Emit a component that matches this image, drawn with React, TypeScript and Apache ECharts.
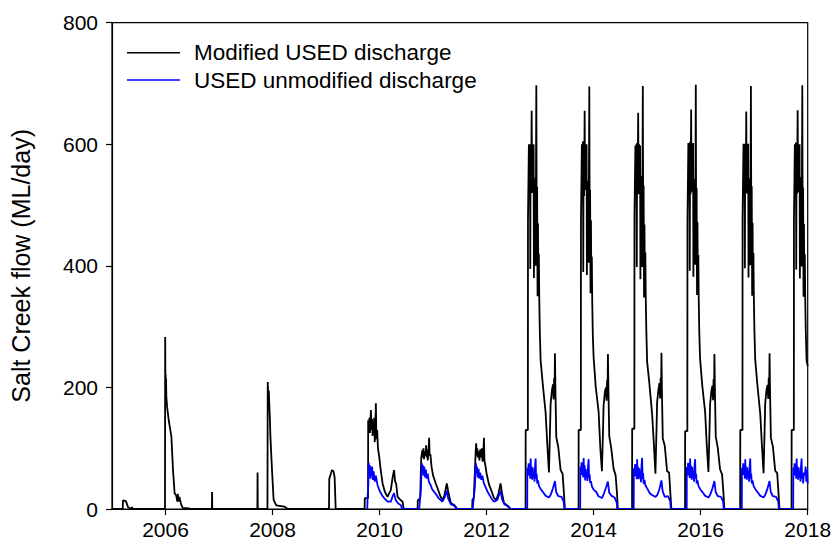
import React, { useEffect, useRef } from "react";
import * as echarts from "echarts";

type P = [number, number];

const seriesNames = ["Modified USED discharge", "USED unmodified discharge"];
const seriesColors = ["#000000", "#0000ff"];
const xTicks = [2006, 2008, 2010, 2012, 2014, 2016, 2018];
const yTicks = [0, 200, 400, 600, 800];

// ---- Modified USED discharge (black) events ----
const mod2005: P[] = [[2005.0, 0], [2005.2, 0], [2005.205, 14], [2005.26, 13], [2005.28, 8], [2005.3, 3], [2005.36, 0], [2005.375, 3], [2005.39, 0]];
const mod2006: P[] = [[2005.99, 0], [2005.994, 283], [2005.998, 200], [2006.002, 222], [2006.006, 188], [2006.01, 215], [2006.015, 185], [2006.03, 168], [2006.06, 146], [2006.08, 135], [2006.11, 119], [2006.14, 64], [2006.17, 26], [2006.2, 22], [2006.22, 12], [2006.23, 25], [2006.245, 12], [2006.26, 20], [2006.29, 8], [2006.32, 2], [2006.44, 1], [2006.46, 0]];
const modSpikes: P[] = [[2006.866, 0], [2006.87, 28], [2006.874, 0], [2007.716, 0], [2007.72, 60], [2007.724, 0]];
const mod2008: P[] = [[2007.905, 0], [2007.91, 209], [2007.92, 185], [2007.93, 195], [2007.94, 170], [2007.95, 150], [2007.96, 119], [2007.99, 64], [2008.02, 15], [2008.07, 6], [2008.22, 4], [2008.28, 0]];
const mod2009: P[] = [[2009.055, 0], [2009.06, 50], [2009.09, 58], [2009.11, 64], [2009.14, 62], [2009.16, 52], [2009.18, 0]];
const mod2010: P[] = [[2009.72, 0], [2009.724, 18], [2009.785, 18], [2009.787, 146], [2009.8, 130], [2009.81, 150], [2009.82, 125], [2009.838, 163], [2009.85, 130], [2009.86, 148], [2009.87, 120], [2009.88, 140], [2009.89, 128], [2009.9, 150], [2009.91, 110], [2009.92, 135], [2009.931, 174], [2009.94, 115], [2009.955, 130], [2009.97, 100], [2009.993, 86], [2010.02, 65], [2010.056, 42], [2010.1, 28], [2010.149, 20], [2010.18, 26], [2010.21, 31], [2010.24, 50], [2010.27, 64], [2010.29, 45], [2010.31, 42], [2010.336, 20], [2010.39, 15], [2010.43, 12], [2010.45, 0]];
const mod2011: P[] = [[2010.71, 0], [2010.714, 14], [2010.76, 18], [2010.77, 60], [2010.78, 85], [2010.8, 97], [2010.81, 85], [2010.82, 100], [2010.83, 82], [2010.845, 95], [2010.86, 88], [2010.87, 105], [2010.88, 85], [2010.89, 98], [2010.9, 80], [2010.915, 95], [2010.926, 117], [2010.935, 88], [2010.95, 90], [2010.97, 70], [2011.0, 55], [2011.05, 42], [2011.1, 30], [2011.14, 20], [2011.175, 15], [2011.21, 22], [2011.24, 35], [2011.256, 42], [2011.28, 30], [2011.3, 22], [2011.33, 10], [2011.4, 6], [2011.455, 0]];
const mod2012: P[] = [[2011.73, 0], [2011.735, 15], [2011.76, 18], [2011.78, 60], [2011.797, 97], [2011.805, 108], [2011.815, 88], [2011.825, 100], [2011.835, 85], [2011.85, 95], [2011.865, 80], [2011.88, 98], [2011.895, 85], [2011.91, 100], [2011.925, 78], [2011.94, 92], [2011.95, 117], [2011.96, 80], [2011.98, 70], [2012.0, 58], [2012.045, 40], [2012.09, 30], [2012.138, 18], [2012.18, 15], [2012.22, 25], [2012.26, 42], [2012.29, 25], [2012.325, 10], [2012.4, 5], [2012.45, 0]];
const mod2013: P[] = [[2012.728, 0], [2012.73, 130], [2012.771, 130], [2012.773, 475], [2012.79, 600], [2012.8, 515], [2012.81, 600], [2012.816, 395], [2012.822, 600], [2012.832, 520], [2012.842, 655], [2012.85, 520], [2012.86, 600], [2012.87, 540], [2012.878, 600], [2012.884, 380], [2012.892, 545], [2012.9, 470], [2012.908, 535], [2012.916, 400], [2012.922, 540], [2012.929, 697], [2012.936, 460], [2012.944, 530], [2012.952, 350], [2012.96, 470], [2012.968, 360], [2012.976, 420], [2012.984, 345], [2012.995, 290], [2013.009, 245], [2013.05, 205], [2013.103, 158], [2013.135, 105], [2013.165, 60], [2013.185, 130], [2013.196, 173], [2013.22, 195], [2013.24, 205], [2013.252, 180], [2013.262, 215], [2013.27, 185], [2013.277, 256], [2013.287, 190], [2013.302, 118], [2013.339, 102], [2013.383, 64], [2013.42, 58], [2013.445, 26], [2013.463, 0]];
const mod2014: P[] = [[2013.718, 0], [2013.72, 130], [2013.761, 130], [2013.763, 470], [2013.78, 600], [2013.79, 520], [2013.8, 605], [2013.806, 390], [2013.812, 600], [2013.822, 515], [2013.832, 655], [2013.84, 525], [2013.85, 600], [2013.86, 535], [2013.868, 600], [2013.874, 385], [2013.882, 540], [2013.89, 475], [2013.898, 530], [2013.906, 405], [2013.912, 545], [2013.919, 695], [2013.926, 455], [2013.934, 525], [2013.942, 355], [2013.95, 475], [2013.958, 365], [2013.966, 415], [2013.974, 340], [2013.985, 285], [2013.999, 250], [2014.04, 200], [2014.093, 160], [2014.125, 100], [2014.155, 62], [2014.175, 128], [2014.186, 170], [2014.21, 192], [2014.23, 200], [2014.242, 178], [2014.252, 212], [2014.26, 188], [2014.267, 255], [2014.277, 192], [2014.292, 120], [2014.329, 100], [2014.373, 66], [2014.41, 56], [2014.435, 28], [2014.453, 0]];
const mod2015: P[] = [[2014.718, 0], [2014.72, 132], [2014.761, 132], [2014.763, 480], [2014.78, 598], [2014.79, 518], [2014.8, 600], [2014.806, 398], [2014.812, 602], [2014.822, 522], [2014.832, 652], [2014.84, 518], [2014.85, 600], [2014.86, 542], [2014.868, 598], [2014.874, 378], [2014.882, 548], [2014.89, 468], [2014.898, 538], [2014.906, 398], [2014.912, 542], [2014.919, 696], [2014.926, 462], [2014.934, 532], [2014.942, 348], [2014.95, 468], [2014.958, 358], [2014.966, 422], [2014.974, 348], [2014.985, 292], [2014.999, 243], [2015.04, 208], [2015.093, 156], [2015.125, 108], [2015.155, 58], [2015.175, 132], [2015.186, 175], [2015.21, 196], [2015.23, 207], [2015.242, 182], [2015.252, 216], [2015.26, 183], [2015.267, 257], [2015.277, 188], [2015.292, 116], [2015.329, 104], [2015.373, 62], [2015.41, 60], [2015.435, 24], [2015.453, 0]];
const mod2016: P[] = [[2015.708, 0], [2015.71, 128], [2015.751, 128], [2015.753, 472], [2015.77, 602], [2015.78, 516], [2015.79, 598], [2015.796, 392], [2015.802, 604], [2015.812, 518], [2015.822, 657], [2015.83, 522], [2015.84, 602], [2015.85, 538], [2015.858, 602], [2015.864, 382], [2015.872, 543], [2015.88, 472], [2015.888, 533], [2015.896, 402], [2015.902, 538], [2015.909, 698], [2015.916, 458], [2015.924, 528], [2015.932, 352], [2015.94, 472], [2015.948, 362], [2015.956, 418], [2015.964, 343], [2015.975, 288], [2015.989, 247], [2016.03, 203], [2016.083, 160], [2016.115, 103], [2016.145, 61], [2016.165, 129], [2016.176, 172], [2016.2, 194], [2016.22, 203], [2016.232, 179], [2016.242, 214], [2016.25, 186], [2016.257, 255], [2016.267, 191], [2016.282, 119], [2016.319, 101], [2016.363, 65], [2016.4, 57], [2016.425, 27], [2016.443, 0]];
const mod2017: P[] = [[2016.738, 0], [2016.74, 130], [2016.781, 130], [2016.783, 476], [2016.8, 601], [2016.81, 519], [2016.82, 601], [2016.826, 396], [2016.832, 599], [2016.842, 521], [2016.852, 654], [2016.86, 519], [2016.87, 601], [2016.88, 539], [2016.888, 601], [2016.894, 381], [2016.902, 544], [2016.91, 471], [2016.918, 536], [2016.926, 401], [2016.932, 541], [2016.939, 696], [2016.946, 461], [2016.954, 531], [2016.962, 351], [2016.97, 471], [2016.978, 361], [2016.986, 421], [2016.994, 346], [2017.005, 291], [2017.019, 246], [2017.06, 204], [2017.113, 157], [2017.145, 104], [2017.175, 59], [2017.195, 131], [2017.206, 174], [2017.23, 196], [2017.25, 204], [2017.262, 181], [2017.272, 216], [2017.28, 184], [2017.287, 256], [2017.297, 189], [2017.312, 117], [2017.349, 103], [2017.393, 63], [2017.43, 59], [2017.455, 25], [2017.473, 0]];
const mod2018: P[] = [[2017.698, 0], [2017.7, 130], [2017.741, 130], [2017.743, 474], [2017.76, 600], [2017.77, 517], [2017.78, 603], [2017.786, 394], [2017.792, 600], [2017.802, 519], [2017.812, 656], [2017.82, 521], [2017.83, 599], [2017.84, 541], [2017.848, 600], [2017.854, 379], [2017.862, 546], [2017.87, 469], [2017.878, 534], [2017.886, 399], [2017.892, 539], [2017.899, 697], [2017.906, 459], [2017.914, 529], [2017.922, 349], [2017.93, 469], [2017.938, 359], [2017.946, 419], [2017.954, 344], [2017.965, 289], [2017.979, 244], [2018.0, 235]];

// ---- USED unmodified discharge (blue) events ----
const unm2010: P[] = [[2009.77, 0], [2009.776, 20], [2009.79, 40], [2009.797, 76], [2009.81, 60], [2009.82, 72], [2009.83, 50], [2009.84, 68], [2009.85, 55], [2009.86, 70], [2009.875, 48], [2009.89, 62], [2009.91, 45], [2009.93, 55], [2009.96, 40], [2010.0, 30], [2010.05, 22], [2010.086, 18], [2010.15, 12], [2010.21, 12], [2010.24, 20], [2010.27, 26], [2010.3, 15], [2010.34, 10], [2010.4, 6], [2010.42, 0]];
const unm2011: P[] = [[2010.74, 0], [2010.75, 10], [2010.77, 30], [2010.79, 75], [2010.8, 60], [2010.81, 72], [2010.82, 55], [2010.835, 70], [2010.85, 52], [2010.865, 65], [2010.88, 50], [2010.9, 58], [2010.92, 45], [2010.95, 40], [2010.98, 33], [2011.02, 28], [2011.05, 25], [2011.1, 18], [2011.175, 12], [2011.22, 20], [2011.256, 30], [2011.28, 18], [2011.33, 8], [2011.4, 5], [2011.44, 0]];
const unm2012: P[] = [[2011.74, 0], [2011.75, 10], [2011.78, 35], [2011.8, 75], [2011.81, 58], [2011.82, 70], [2011.835, 52], [2011.85, 66], [2011.865, 50], [2011.88, 60], [2011.9, 48], [2011.92, 55], [2011.95, 42], [2011.98, 36], [2012.02, 28], [2012.06, 22], [2012.1, 16], [2012.14, 12], [2012.2, 15], [2012.26, 30], [2012.29, 16], [2012.33, 8], [2012.4, 4], [2012.44, 0]];
const unm2013: P[] = [[2012.759, 0], [2012.761, 68], [2012.775, 60], [2012.785, 75], [2012.795, 55], [2012.805, 72], [2012.815, 50], [2012.823, 83], [2012.832, 55], [2012.842, 70], [2012.852, 48], [2012.862, 68], [2012.872, 52], [2012.885, 62], [2012.895, 45], [2012.905, 70], [2012.916, 83], [2012.925, 50], [2012.935, 58], [2012.945, 42], [2012.96, 47], [2012.978, 38], [2013.009, 33], [2013.06, 27], [2013.1, 22], [2013.165, 19], [2013.2, 24], [2013.24, 34], [2013.277, 46], [2013.3, 28], [2013.34, 21], [2013.4, 20], [2013.44, 12], [2013.452, 0]];
const unm2014: P[] = [[2013.749, 0], [2013.751, 70], [2013.765, 58], [2013.775, 77], [2013.785, 56], [2013.795, 70], [2013.805, 52], [2013.813, 84], [2013.822, 54], [2013.832, 72], [2013.842, 47], [2013.852, 66], [2013.862, 53], [2013.875, 60], [2013.885, 46], [2013.895, 69], [2013.906, 82], [2013.915, 51], [2013.925, 57], [2013.935, 43], [2013.95, 46], [2013.968, 37], [2013.999, 32], [2014.05, 28], [2014.09, 21], [2014.155, 18], [2014.19, 25], [2014.23, 35], [2014.267, 45], [2014.29, 27], [2014.33, 22], [2014.39, 19], [2014.43, 11], [2014.442, 0]];
const unm2015: P[] = [[2014.749, 0], [2014.751, 67], [2014.765, 61], [2014.775, 74], [2014.785, 54], [2014.795, 73], [2014.805, 49], [2014.813, 82], [2014.822, 56], [2014.832, 69], [2014.842, 49], [2014.852, 67], [2014.862, 51], [2014.875, 63], [2014.885, 44], [2014.895, 71], [2014.906, 84], [2014.915, 49], [2014.925, 59], [2014.935, 41], [2014.95, 48], [2014.968, 39], [2014.999, 34], [2015.05, 26], [2015.09, 23], [2015.155, 20], [2015.19, 23], [2015.23, 33], [2015.267, 47], [2015.29, 29], [2015.33, 20], [2015.39, 21], [2015.43, 13], [2015.442, 0]];
const unm2016: P[] = [[2015.739, 0], [2015.741, 69], [2015.755, 59], [2015.765, 76], [2015.775, 55], [2015.785, 71], [2015.795, 51], [2015.803, 83], [2015.812, 54], [2015.822, 71], [2015.832, 48], [2015.842, 69], [2015.852, 52], [2015.865, 61], [2015.875, 45], [2015.885, 70], [2015.896, 82], [2015.905, 50], [2015.915, 58], [2015.925, 42], [2015.94, 47], [2015.958, 38], [2015.989, 33], [2016.04, 27], [2016.08, 22], [2016.145, 19], [2016.18, 24], [2016.22, 34], [2016.257, 46], [2016.28, 28], [2016.32, 21], [2016.38, 20], [2016.42, 12], [2016.432, 0]];
const unm2017: P[] = [[2016.769, 0], [2016.771, 68], [2016.785, 60], [2016.795, 75], [2016.805, 56], [2016.815, 72], [2016.825, 50], [2016.833, 82], [2016.842, 55], [2016.852, 70], [2016.862, 48], [2016.872, 68], [2016.882, 52], [2016.895, 62], [2016.905, 45], [2016.915, 70], [2016.926, 83], [2016.935, 50], [2016.945, 58], [2016.955, 42], [2016.97, 47], [2016.988, 38], [2017.019, 33], [2017.07, 27], [2017.11, 22], [2017.175, 19], [2017.21, 24], [2017.25, 34], [2017.287, 46], [2017.31, 28], [2017.35, 21], [2017.41, 20], [2017.45, 12], [2017.462, 0]];
const unm2018: P[] = [[2017.729, 0], [2017.731, 68], [2017.745, 60], [2017.755, 75], [2017.765, 55], [2017.775, 72], [2017.785, 50], [2017.793, 83], [2017.802, 55], [2017.812, 70], [2017.822, 48], [2017.832, 68], [2017.842, 52], [2017.855, 62], [2017.865, 45], [2017.875, 70], [2017.886, 83], [2017.895, 50], [2017.905, 58], [2017.915, 42], [2017.93, 60], [2017.948, 55], [2017.96, 70], [2017.975, 45], [2017.99, 65], [2018.0, 42]];

const modifiedEvents: P[][] = [mod2005, mod2006, modSpikes, mod2008, mod2009, mod2010, mod2011, mod2012, mod2013, mod2014, mod2015, mod2016, mod2017, mod2018];
const unmodifiedEvents: P[][] = [unm2010, unm2011, unm2012, unm2013, unm2014, unm2015, unm2016, unm2017, unm2018];

const FONT = "'Liberation Sans', Arial, Helvetica, sans-serif";

export default function App() {
  const ref = useRef<HTMLDivElement>(null);
  useEffect(() => {
    if (!ref.current) return;
    const chart = echarts.init(ref.current, undefined, { renderer: "svg" });
    const modified: P[] = ([] as P[]).concat(...modifiedEvents);
    const unmodified: P[] = ([] as P[]).concat(...unmodifiedEvents);
    chart.setOption({
      animation: false,
      backgroundColor: "#ffffff",
      textStyle: { fontFamily: FONT },
      grid: {
        left: 110.7,
        right: 27.3,
        top: 22.7,
        bottom: 42,
        show: true,
        borderColor: "#000",
        borderWidth: 1.2,
        backgroundColor: "transparent",
      },
      legend: {
        left: 127,
        top: 40.7,
        orient: "vertical",
        itemWidth: 53,
        itemHeight: 1.6,
        itemGap: 3.3,
        padding: 0,
        data: seriesNames.map((n, i) => ({ name: n, icon: "rect", itemStyle: { color: seriesColors[i] } })),
        textStyle: {
          fontSize: 22.5,
          color: "#000",
          fontFamily: FONT,
          lineHeight: 24,
          padding: [0, 0, 0, 9],
        },
      },
      xAxis: {
        type: "value",
        min: 2005,
        max: 2018,
        z: 5,
        axisLine: { show: true, onZero: false, lineStyle: { color: "#000", width: 1.2 } },
        axisTick: { show: true, length: 6, customValues: xTicks, lineStyle: { color: "#000", width: 1.2 } },
        axisLabel: {
          customValues: xTicks,
          formatter: (v: number) => String(v),
          fontSize: 21,
          color: "#000",
          margin: 10,
          fontFamily: FONT,
        },
        splitLine: { show: false },
      },
      yAxis: {
        type: "value",
        min: 0,
        max: 800,
        interval: 200,
        z: 5,
        name: "Salt Creek flow (ML/day)",
        nameLocation: "middle",
        nameGap: 79,
        nameTextStyle: { fontSize: 25, color: "#000", fontFamily: FONT },
        axisLine: { show: true, lineStyle: { color: "#000", width: 1.2 } },
        axisTick: { show: true, length: 6, lineStyle: { color: "#000", width: 1.2 } },
        axisLabel: {
          customValues: yTicks,
          fontSize: 21,
          color: "#000",
          margin: 14,
          fontFamily: FONT,
        },
        splitLine: { show: false },
      },
      series: [
        {
          name: seriesNames[0],
          type: "line",
          data: modified,
          symbol: "none",
          lineStyle: { color: seriesColors[0], width: 1.8 },
          itemStyle: { color: seriesColors[0] },
          clip: true,
        },
        {
          name: seriesNames[1],
          type: "line",
          data: unmodified,
          symbol: "none",
          lineStyle: { color: seriesColors[1], width: 1.8 },
          itemStyle: { color: seriesColors[1] },
          clip: true,
        },
      ],
    });
    return () => chart.dispose();
  }, []);
  return (
    <div
      ref={ref}
      style={{ position: "fixed", left: 0, top: 0, width: 835, height: 551, background: "#fff" }}
    />
  );
}
